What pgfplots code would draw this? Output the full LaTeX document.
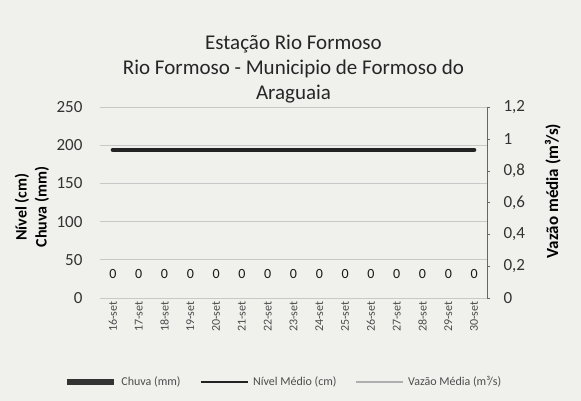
\documentclass[border=0pt]{standalone}
\usepackage{pgfplots}
\pgfplotsset{compat=1.18}
\usepackage{fontspec}
\setmainfont{Carlito}
\definecolor{bg}{RGB}{240,240,237}
\definecolor{gridc}{RGB}{200,200,200}
\definecolor{lineC}{RGB}{35,35,35}
\definecolor{vaz}{RGB}{175,175,175}
\begin{document}
\begin{tikzpicture}[x=1pt,y=1pt]
\fill[bg] (0,0) rectangle (581,401);
\path[use as bounding box] (0,0) rectangle (581,401);
\begin{axis}[
  at={(100pt,103pt)}, anchor=south west,
  scale only axis, width=387pt, height=191pt,
  xmin=-0.5, xmax=14.5, ymin=0, ymax=250,
  ytick={0,50,...,250},
  xtick={0,...,14},
  xticklabels={16-set,17-set,18-set,19-set,20-set,21-set,22-set,23-set,24-set,25-set,26-set,27-set,28-set,29-set,30-set},
  x tick label style={rotate=90, anchor=east, font=\fontsize{12}{14}\selectfont, text=black!70},
  y tick label style={font=\fontsize{17}{20}\selectfont, text=black!80, xshift=-14pt},
  /pgf/number format/assume math mode=true,
  axis y line*=left, axis x line*=bottom,
  y axis line style={draw=none},
  x axis line style={draw=gridc, line width=0.8pt},
  major tick length=0pt,
  ymajorgrids, grid style={draw=gridc, line width=0.7pt},
  ylabel={\textbf{Nível (cm)}\\\textbf{Chuva (mm)}},
  ylabel style={align=center, font=\fontsize{16}{20}\selectfont, at={(axis description cs:-0.176,0.476)}, anchor=center},
  title={Estação Rio Formoso\\Rio Formoso - Municipio de Formoso do\\Araguaia},
  title style={align=center, font=\fontsize{21}{25}\selectfont, text=black!85, at={(axis description cs:0.5,1)}, anchor=south, yshift=-6pt},
  clip=false,
]
\addplot[draw=none, mark=none, nodes near coords, point meta=explicit,
  every node near coord/.style={font=\fontsize{14}{16}\selectfont, anchor=center, yshift=24pt, text=black!90}]
  coordinates {(0,0)[0] (1,0)[0] (2,0)[0] (3,0)[0] (4,0)[0] (5,0)[0] (6,0)[0] (7,0)[0] (8,0)[0] (9,0)[0] (10,0)[0] (11,0)[0] (12,0)[0] (13,0)[0] (14,0)[0]};
\addplot[lineC, line width=4.5pt, line cap=round] coordinates {
  (0,194) (1,194) (2,194) (3,194) (4,194) (5,194) (6,194) (7,194) (8,194) (9,194) (10,194) (11,194) (12,194) (13,194) (14,194)};
\end{axis}
\begin{axis}[
  at={(100pt,103pt)}, anchor=south west,
  scale only axis, width=387pt, height=191pt,
  xmin=-0.5, xmax=14.5, ymin=0, ymax=1.2,
  ytick={0,0.2,...,1.2},
  axis y line*=right, axis x line=none,
  y axis line style={draw=black!60, line width=0.7pt},
  tick align=outside, major tick length=3pt,
  ytick style={draw=black!60},
  y tick label style={font=\fontsize{17}{20}\selectfont, text=black!80, xshift=10pt},
  /pgf/number format/assume math mode=true,
  yticklabel={\pgfmathprintnumber[fixed, precision=1, use comma]{\tick}},
  ylabel={\textbf{Vazão média (m³/s)}},
  ylabel style={font=\fontsize{17}{20}\selectfont, at={(axis description cs:1.17,0.56)}, anchor=center},
  legend columns=3,
  legend style={draw=none, fill=none, font=\fontsize{12}{14}\selectfont, text=black!70,
    at={(axis description cs:0.475,-0.44)}, anchor=center,
    /tikz/every odd column/.append style={column sep=2pt},
    /tikz/every even column/.append style={column sep=17pt}},
  legend image code/.code={\draw[#1] (0pt,0pt) -- (47pt,0pt);},
  clip=false,
]
\addlegendimage{black!80, line width=6pt}
\addlegendentry{Chuva (mm)}
\addlegendimage{lineC, line width=2.5pt}
\addlegendentry{Nível Médio (cm)}
\addlegendimage{vaz, line width=1.5pt}
\addlegendentry{Vazão Média (m³/s)}
\end{axis}
\end{tikzpicture}
\end{document}
